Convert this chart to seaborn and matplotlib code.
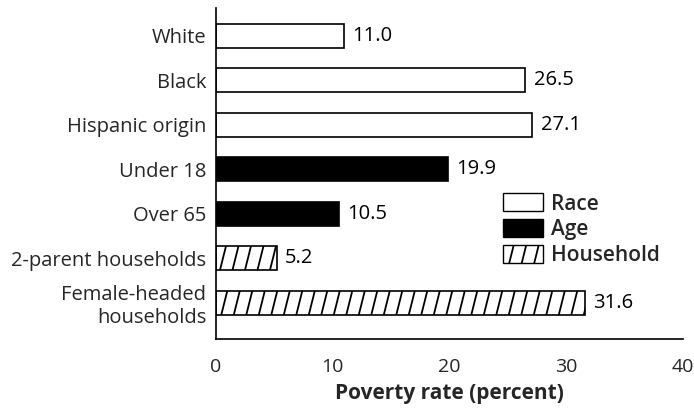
import matplotlib
matplotlib.use("Agg")
import numpy as np
import matplotlib.pyplot as plt
from matplotlib import hatch as mhatch
from matplotlib.path import Path
from matplotlib.patches import Patch
import seaborn as sns
import pandas as pd

categories = ["White", "Black", "Hispanic origin", "Under 18", "Over 65",
              "2-parent households", "Female-headed\nhouseholds"]
rates = [11.0, 26.5, 27.1, 19.9, 10.5, 5.2, 31.6]
groups = ["Race", "Race", "Race", "Age", "Age", "Household", "Household"]
value_labels = ["11.0", "26.5", "27.1", "19.9", "10.5", "5.2", "31.6"]
xticks = [0, 10, 20, 30, 40]
legend_order = ["Race", "Age", "Household"]


class SteepHatch(mhatch.HatchPatternBase):
    """'/' hatch drawn as steep strokes (rise 4 for every run of 1)."""

    def __init__(self, hatch, density):
        self.num_lines = hatch.count('/') * 8
        if self.num_lines:
            n = self.num_lines
            self.offsets = np.arange(-(n // 4), n + 1) / n
            self.num_vertices = len(self.offsets) * 2
        else:
            self.num_vertices = 0

    def set_vertices_and_codes(self, vertices, codes):
        vertices[0::2, 0] = self.offsets
        vertices[0::2, 1] = 0.0
        vertices[1::2, 0] = self.offsets + 0.25
        vertices[1::2, 1] = 1.0
        codes[0::2] = Path.MOVETO
        codes[1::2] = Path.LINETO


mhatch._hatch_types = [SteepHatch if t is mhatch.NorthEastHatch else t
                       for t in mhatch._hatch_types]

sns.set_theme(style="white")
plt.rcParams["font.family"] = ["Open Sans", "DejaVu Sans"]
plt.rcParams["hatch.linewidth"] = 1.3
plt.rcParams["hatch.color"] = "black"

df = pd.DataFrame({"category": categories, "rate": rates, "group": groups})

fills = {"Race": "white", "Age": "black", "Household": "white"}
hatches = {"Race": "", "Age": "", "Household": "/"}

fig = plt.figure(figsize=(6.94, 4.13), dpi=100)
ax = fig.add_axes([216 / 694, 1 - 339 / 413, 467 / 694, 331 / 413])

sns.barplot(data=df, x="rate", y="category", hue="group", palette=fills,
            dodge=False, width=0.54, edgecolor="black", linewidth=1.2,
            legend=False, ax=ax)

# apply the hatch of each bar's group
for bar, grp in zip(sorted(ax.patches, key=lambda p: p.get_y()), groups):
    bar.set_hatch(hatches[grp])

for i, (v, txt) in enumerate(zip(rates, value_labels)):
    ax.text(v + 0.7, i, txt, va="center", ha="left", fontsize=14.5, color="black")

ax.set_xlim(0, 40)
ax.set_ylim(6.82, -0.63)
ax.set_xticks(xticks)
ax.set_xticklabels([str(t) for t in xticks], fontsize=14)
ax.tick_params(axis="x", direction="out", length=9, width=1.1, color="black", pad=5)
ax.tick_params(axis="y", length=0, labelsize=14.5, pad=7)
ax.set_ylabel("")
ax.set_xlabel("Poverty rate (percent)", fontsize=15, fontweight="bold", labelpad=5)

for side in ["top", "right"]:
    ax.spines[side].set_visible(False)
for side in ["left", "bottom"]:
    ax.spines[side].set_color("black")
    ax.spines[side].set_linewidth(1.2)

handles = [Patch(facecolor=fills[g], edgecolor="black", hatch=hatches[g], label=g)
           for g in legend_order]
leg = ax.legend(handles=handles, loc="upper left", bbox_to_anchor=(0.614, 0.44),
                frameon=False, fontsize=15, handlelength=1.95, handleheight=0.95,
                labelspacing=0.22, handletextpad=0.35, borderpad=0.0,
                borderaxespad=0.0)
for t in leg.get_texts():
    t.set_fontweight("semibold")

fig.savefig("out.png", dpi=100)
